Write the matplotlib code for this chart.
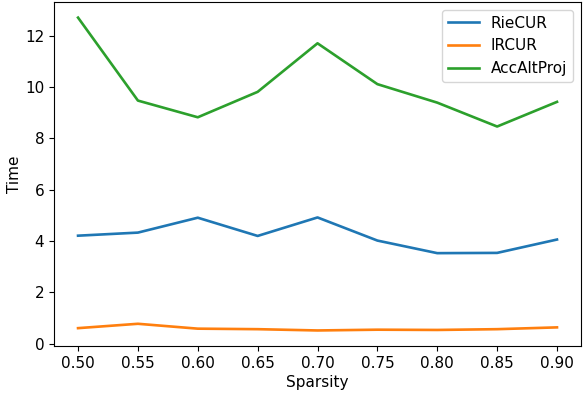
import matplotlib
matplotlib.use('Agg')
import matplotlib.pyplot as plt

sparsity = [0.50, 0.55, 0.60, 0.65, 0.70, 0.75, 0.80, 0.85, 0.90]
riecur = [4.21, 4.33, 4.91, 4.20, 4.92, 4.02, 3.53, 3.54, 4.06]
ircur = [0.61, 0.78, 0.59, 0.57, 0.52, 0.55, 0.54, 0.57, 0.64]
accaltproj = [12.70, 9.47, 8.82, 9.81, 11.70, 10.11, 9.39, 8.46, 9.42]

plt.rcParams['font.size'] = 11
plt.rcParams['lines.linewidth'] = 1.9

fig, ax = plt.subplots(figsize=(5.88, 3.96), dpi=100)
ax.plot(sparsity, riecur, label='RieCUR')
ax.plot(sparsity, ircur, label='IRCUR')
ax.plot(sparsity, accaltproj, label='AccAltProj')
ax.set_xticks(sparsity)
ax.set_xlabel('Sparsity', labelpad=3)
ax.set_ylabel('Time', labelpad=2)
ax.legend(loc='upper right')
fig.subplots_adjust(left=0.092, right=0.988, top=0.995, bottom=0.126)
fig.savefig('out.png')
